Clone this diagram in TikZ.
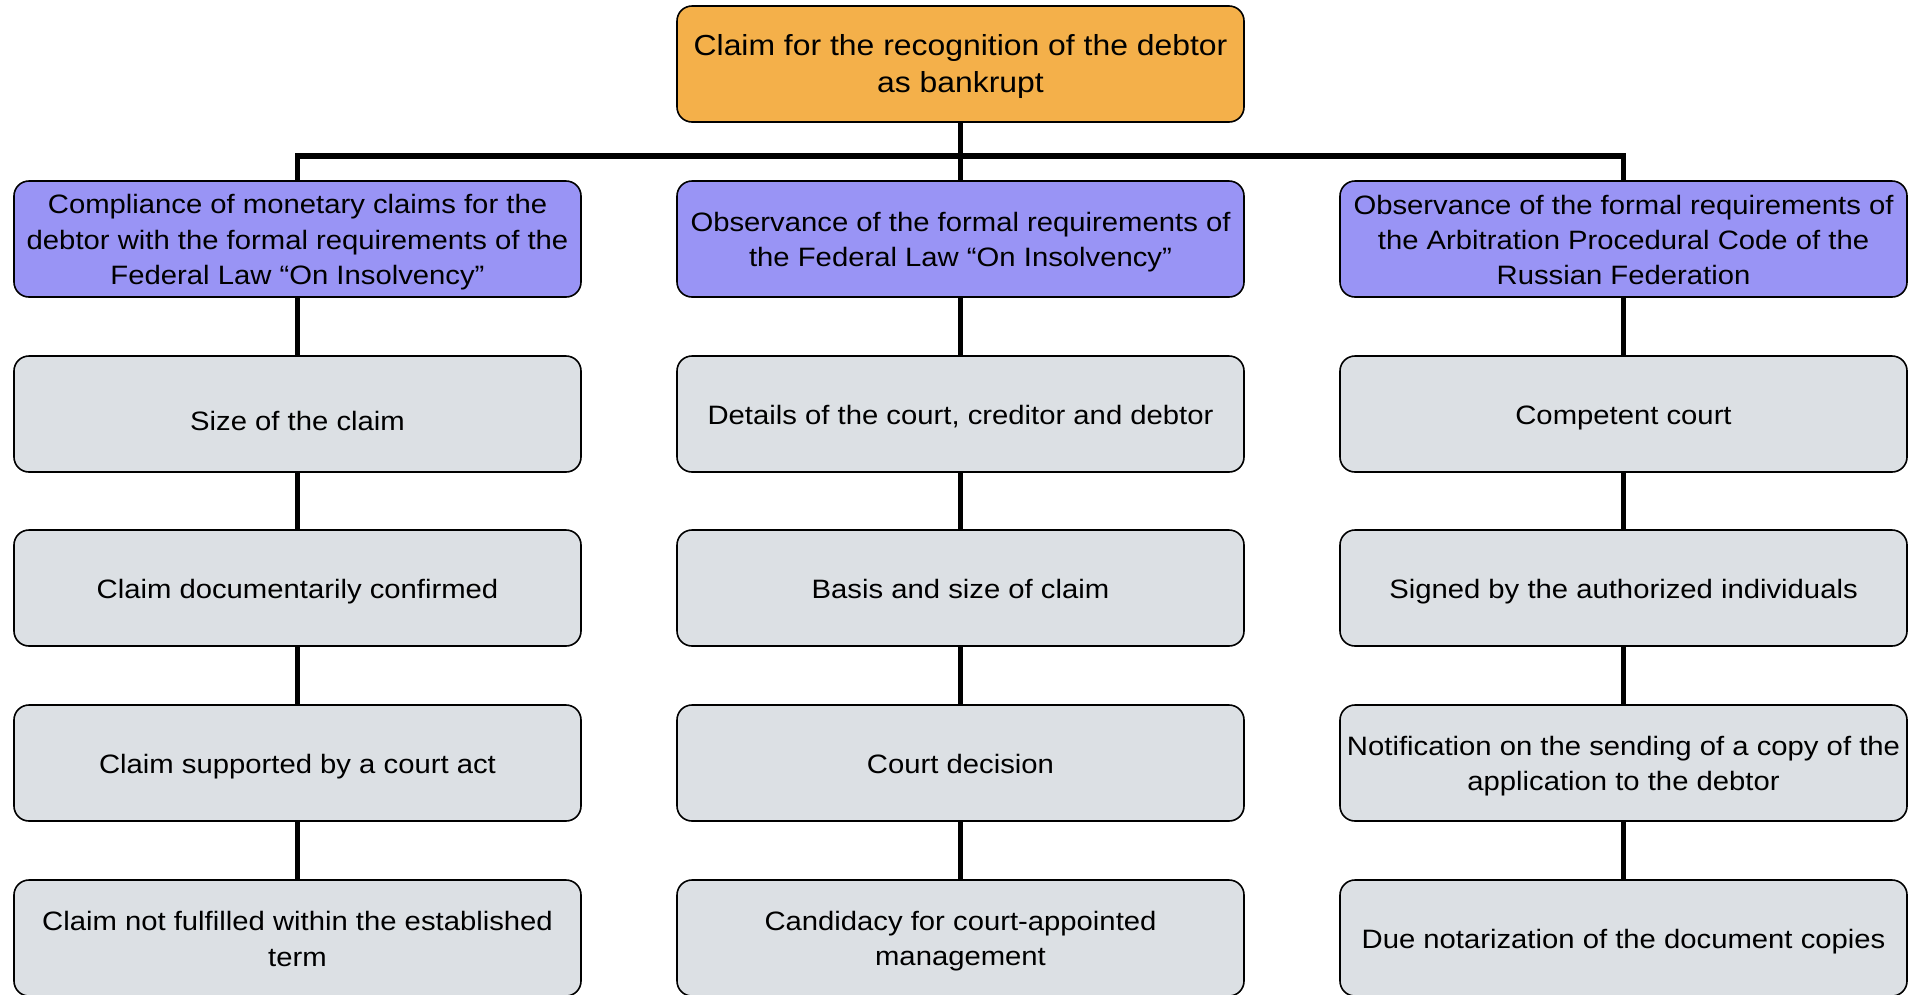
\documentclass[tikz,border=0pt]{standalone}
\usepackage{fontspec}
\setmainfont{Liberation Sans}
\newfontfamily\boxfont[FakeStretch=1.1]{Liberation Sans}
\newcommand\tstrut{\vrule height 26pt depth 0pt width 0pt}
\definecolor{rootorange}{RGB}{244,176,74}
\definecolor{groupblue}{RGB}{153,148,245}
\definecolor{itemgray}{RGB}{220,224,228}
\begin{document}
\begin{tikzpicture}[x=1pt,y=-1pt,
	box/.style={draw=black,line width=1.6pt,rounded corners=15pt,minimum width=567pt,minimum height=116pt,align=center,inner xsep=2pt,inner ysep=0pt,execute at begin node={\vrule height 26pt depth 5pt width 0pt},font=\boxfont\fontsize{26.6}{35.4}\selectfont},
	rootbox/.style={box,fill=rootorange,font=\boxfont\fontsize{29}{36.7}\selectfont},
	groupbox/.style={box,fill=groupblue},
	itembox/.style={box,fill=itemgray},
	link/.style={line width=4.5pt},
	buslink/.style={line width=5.5pt}]
	\useasboundingbox (0,0) rectangle (1916,994);
	\def\xa{297.5}
	\def\xb{960.5}
	\def\xc{1623.5}
	% root and the three groups
	\node[rootbox] (root) at (\xb,64) {\tstrut Claim for the recognition of the debtor\\as bankrupt};
	\node[groupbox] (lawA) at (\xa,239) {\tstrut Compliance of monetary claims for the\\debtor with the formal requirements of the\\Federal Law “On Insolvency”};
	\node[groupbox] (lawB) at (\xb,239) {\tstrut Observance of the formal requirements of\\the Federal Law “On Insolvency”};
	\node[groupbox] (code) at (\xc,239) {\tstrut Observance of the formal requirements of\\the Arbitration Procedural Code of the\\Russian Federation};
	% left column
	\node[itembox] (a1) at (\xa,414) {\raisebox{-7pt}{Size of the claim}};
	\node[itembox] (a2) at (\xa,588) {Claim documentarily confirmed};
	\node[itembox] (a3) at (\xa,763) {Claim supported by a court act};
	\node[itembox] (a4) at (\xa,938) {\tstrut Claim not fulfilled within the established\\term};
	% middle column
	\node[itembox] (b1) at (\xb,414) {Details of the court, creditor and debtor};
	\node[itembox] (b2) at (\xb,588) {Basis and size of claim};
	\node[itembox] (b3) at (\xb,763) {Court decision};
	\node[itembox] (b4) at (\xb,938) {\tstrut Candidacy for court-appointed\\management};
	% right column
	\node[itembox] (c1) at (\xc,414) {Competent court};
	\node[itembox] (c2) at (\xc,588) {Signed by the authorized individuals};
	\node[itembox] (c3) at (\xc,763) {\tstrut Notification on the sending of a copy of the\\application to the debtor};
	\node[itembox] (c4) at (\xc,938) {Due notarization of the document copies};
	% bus
	\coordinate (bus) at (\xb,156);
	\draw[buslink] (root.south) -- (lawB.north);
	\draw[buslink] (lawA.north) |- (bus) -| (code.north);
	% chains
	\foreach \g/\c in {lawA/a,lawB/b,code/c}{
		\draw[link] (\g) -- (\c1);
		\draw[link] (\c1) -- (\c2);
		\draw[link] (\c2) -- (\c3);
		\draw[link] (\c3) -- (\c4);
	}
\end{tikzpicture}
\end{document}
